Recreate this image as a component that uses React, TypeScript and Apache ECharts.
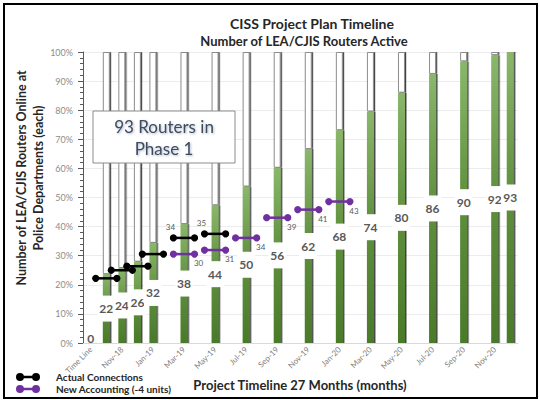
import React, { useEffect, useRef } from 'react';
import * as echarts from 'echarts';

const categories = ['Time Line', 'Oct-18', 'Nov-18', 'Dec-18', 'Jan-19', 'Feb-19', 'Mar-19', 'Apr-19', 'May-19', 'Jun-19', 'Jul-19', 'Aug-19', 'Sep-19', 'Oct-19', 'Nov-19', 'Dec-19', 'Jan-20', 'Feb-20', 'Mar-20', 'Apr-20', 'May-20', 'Jun-20', 'Jul-20', 'Aug-20', 'Sep-20', 'Oct-20', 'Nov-20', 'Dec-20'];
const routersActive = [0, 22, 24, 26, 32, null, 38, null, 44, null, 50, null, 56, null, 62, null, 68, null, 74, null, 80, null, 86, null, 90, null, 92, 93];
const totalRouters = 93;

const actualMonths = ['Oct-18', 'Nov-18', 'Dec-18', 'Jan-19', 'Mar-19', 'May-19'];
const actualConnections = [24, 26, 27, 30, 34, 35];
const actualLabelled = [false, false, false, false, true, true];

const newMonths = ['Mar-19', 'May-19', 'Jul-19', 'Sep-19', 'Nov-19', 'Jan-20'];
const newAccounting = [30, 31, 34, 39, 41, 43];

const FONT = 'Lato, "Open Sans", sans-serif';
const ICON = 'path://M0,4 a4,4 0 1,1 8,0 a4,4 0 1,1 -8,0 Z M16,4 a4,4 0 1,1 8,0 a4,4 0 1,1 -8,0 Z M7.5,2.8 H16.5 V5.2 H7.5 Z';

function segmentRenderer(color: string, labelAbove: boolean) {
  return (params: any, api: any) => {
    const idx = api.value(0);
    const v = api.value(1);
    const showLabel = api.value(2) === 1;
    const pt = api.coord([idx, v]);
    const bw = api.size([1, 0])[0];
    const half = bw * 0.68;
    const children: any[] = [
      { type: 'line', shape: { x1: pt[0] - half, y1: pt[1], x2: pt[0] + half, y2: pt[1] }, style: { stroke: color, lineWidth: 2.5 } },
      { type: 'circle', shape: { cx: pt[0] - half, cy: pt[1], r: 3.6 }, style: { fill: color } },
      { type: 'circle', shape: { cx: pt[0] + half, cy: pt[1], r: 3.6 }, style: { fill: color } },
    ];
    if (showLabel) {
      children.push({
        type: 'text',
        x: labelAbove ? pt[0] - half - 3 : pt[0] + half + 4,
        y: labelAbove ? pt[1] - 11 : pt[1] + 9,
        style: { text: String(v), fontSize: 8, fill: '#595959', align: 'center', verticalAlign: 'middle', fontFamily: FONT },
      });
    }
    return { type: 'group', children };
  };
}

export default function App() {
  const ref = useRef<HTMLDivElement>(null);
  useEffect(() => {
    if (!ref.current) return;
    const chart = echarts.init(ref.current, undefined, { renderer: 'svg' });

    const pctData = routersActive.map((v) => {
      if (v == null) return '-';
      const pct = (v / totalRouters) * 100;
      if (v === 0) return { value: pct, label: { backgroundColor: 'transparent', padding: 0, position: 'insideBottom', offset: [0, 6] } };
      return pct;
    });
    const restData = routersActive.map((v) => {
      if (v == null || v === 0) return '-';
      const rest = 100 - (v / totalRouters) * 100;
      return rest > 0.01 ? rest : '-';
    });

    const actualData = actualMonths.map((m, i) => [categories.indexOf(m), actualConnections[i], actualLabelled[i] ? 1 : 0]);
    const newData = newMonths.map((m, i) => [categories.indexOf(m), newAccounting[i], 1]);

    const legendBase = {
      orient: 'horizontal',
      left: 16,
      padding: 0,
      itemWidth: 24,
      itemHeight: 8,
      textStyle: { fontSize: 10, fontWeight: 'bold', color: '#262626', fontFamily: FONT, padding: [0, 0, 0, 11] },
    };

    chart.setOption({
      animation: false,
      textStyle: { fontFamily: FONT },
      grid: { left: 83, right: 22, top: 52, bottom: 57 },
      legend: [
        { ...legendBase, top: 372, data: [{ name: 'Actual Connections', icon: ICON }] },
        { ...legendBase, top: 384, data: [{ name: 'New Accounting (-4 units)', icon: ICON }] },
      ],
      xAxis: {
        type: 'category',
        data: categories,
        axisLine: { show: true, lineStyle: { color: '#d9d9d9' } },
        axisTick: { show: false },
        axisLabel: { interval: 1, rotate: 45, fontSize: 8, color: '#7f7f7f', margin: 5, fontFamily: FONT },
      },
      yAxis: [
        {
          type: 'value',
          min: 0,
          max: 100,
          interval: 10,
          axisLine: { show: true, lineStyle: { color: '#595959' } },
          axisTick: { show: true, length: 5, lineStyle: { color: '#595959' } },
          minorTick: { show: true, splitNumber: 5, length: 3, lineStyle: { color: '#595959' } },
          splitLine: { show: true, lineStyle: { color: '#ececec' } },
          axisLabel: { formatter: '{value}%', fontSize: 9, color: '#8c8c8c', margin: 10, fontFamily: FONT },
        },
        { type: 'value', min: 8, max: 80, show: false },
      ],
      series: [
        {
          name: 'Routers',
          type: 'bar',
          stack: 'total',
          barWidth: 7,
          data: pctData,
          itemStyle: {
            color: new echarts.graphic.LinearGradient(0, 0, 0, 1, [
              { offset: 0, color: '#8ab76b' },
              { offset: 0.5, color: '#5e8f3c' },
              { offset: 1, color: '#4a7a29' },
            ]),
            shadowColor: 'rgba(0,0,0,0.75)',
            shadowOffsetX: 1.5,
            shadowBlur: 0,
          },
          label: {
            show: true,
            position: 'inside',
            formatter: (p: any) => String(routersActive[p.dataIndex]),
            fontSize: 12,
            fontWeight: 'bold',
            color: '#595959',
            backgroundColor: '#ffffff',
            padding: [7, 2, 7, 2],
            fontFamily: FONT,
          },
          z: 2,
        },
        {
          name: 'Remaining',
          type: 'bar',
          stack: 'total',
          barWidth: 7,
          data: restData,
          itemStyle: {
            color: '#ffffff',
            borderColor: '#8c8c8c',
            borderWidth: 1,
            shadowColor: 'rgba(0,0,0,0.75)',
            shadowOffsetX: 1.2,
            shadowBlur: 0,
          },
          z: 1,
        },
        {
          name: 'Actual Connections',
          type: 'custom',
          yAxisIndex: 1,
          data: actualData,
          encode: { x: 0, y: 1 },
          itemStyle: { color: '#000000' },
          renderItem: segmentRenderer('#000000', true),
          z: 5,
        },
        {
          name: 'New Accounting (-4 units)',
          type: 'custom',
          yAxisIndex: 1,
          data: newData,
          encode: { x: 0, y: 1 },
          itemStyle: { color: '#7030a0' },
          renderItem: segmentRenderer('#7030a0', false),
          z: 5,
        },
      ],
      graphic: [
        { type: 'rect', z: 100, shape: { x: 4, y: 4, width: 533, height: 394 }, style: { fill: 'none', stroke: '#000', lineWidth: 2 } },
        { type: 'text', z: 100, x: 312, y: 23, style: { text: 'CISS Project Plan Timeline', fontSize: 14, fontWeight: 'bold', fill: '#262626', align: 'center', verticalAlign: 'middle', fontFamily: FONT } },
        { type: 'text', z: 100, x: 304, y: 41, style: { text: 'Number of LEA/CJIS Routers Active', fontSize: 13, fontWeight: 'bold', fill: '#262626', align: 'center', verticalAlign: 'middle', fontFamily: FONT } },
        { type: 'text', z: 100, x: 300, y: 385, style: { text: 'Project Timeline 27 Months (months)', fontSize: 13, fontWeight: 'bold', fill: '#262626', align: 'center', verticalAlign: 'middle', fontFamily: FONT } },
        { type: 'text', z: 100, x: 21, y: 178, rotation: Math.PI / 2, style: { text: 'Number of LEA/CJIS Routers Online at', fontSize: 12.5, fontWeight: 'bold', fill: '#262626', align: 'center', verticalAlign: 'middle', fontFamily: FONT } },
        { type: 'text', z: 100, x: 38, y: 178, rotation: Math.PI / 2, style: { text: 'Police Departments (each)', fontSize: 12.5, fontWeight: 'bold', fill: '#262626', align: 'center', verticalAlign: 'middle', fontFamily: FONT } },
        { type: 'rect', z: 100, shape: { x: 93, y: 111, width: 142, height: 52 }, style: { fill: '#ffffff', stroke: '#8c8c8c', lineWidth: 1 } },
        {
          type: 'text', z: 101, x: 164, y: 137,
          style: {
            text: '93 Routers in\nPhase 1', fontSize: 17, lineHeight: 22, fill: '#3e4c5c', align: 'center', verticalAlign: 'middle', fontFamily: FONT,
            textShadowColor: 'rgba(70,100,150,0.45)', textShadowBlur: 2, textShadowOffsetX: 1, textShadowOffsetY: 1,
          },
        },
      ],
    });
    return () => chart.dispose();
  }, []);
  return <div ref={ref} style={{ position: 'absolute', left: 0, top: 0, width: 540, height: 400, background: '#fff' }} />;
}
